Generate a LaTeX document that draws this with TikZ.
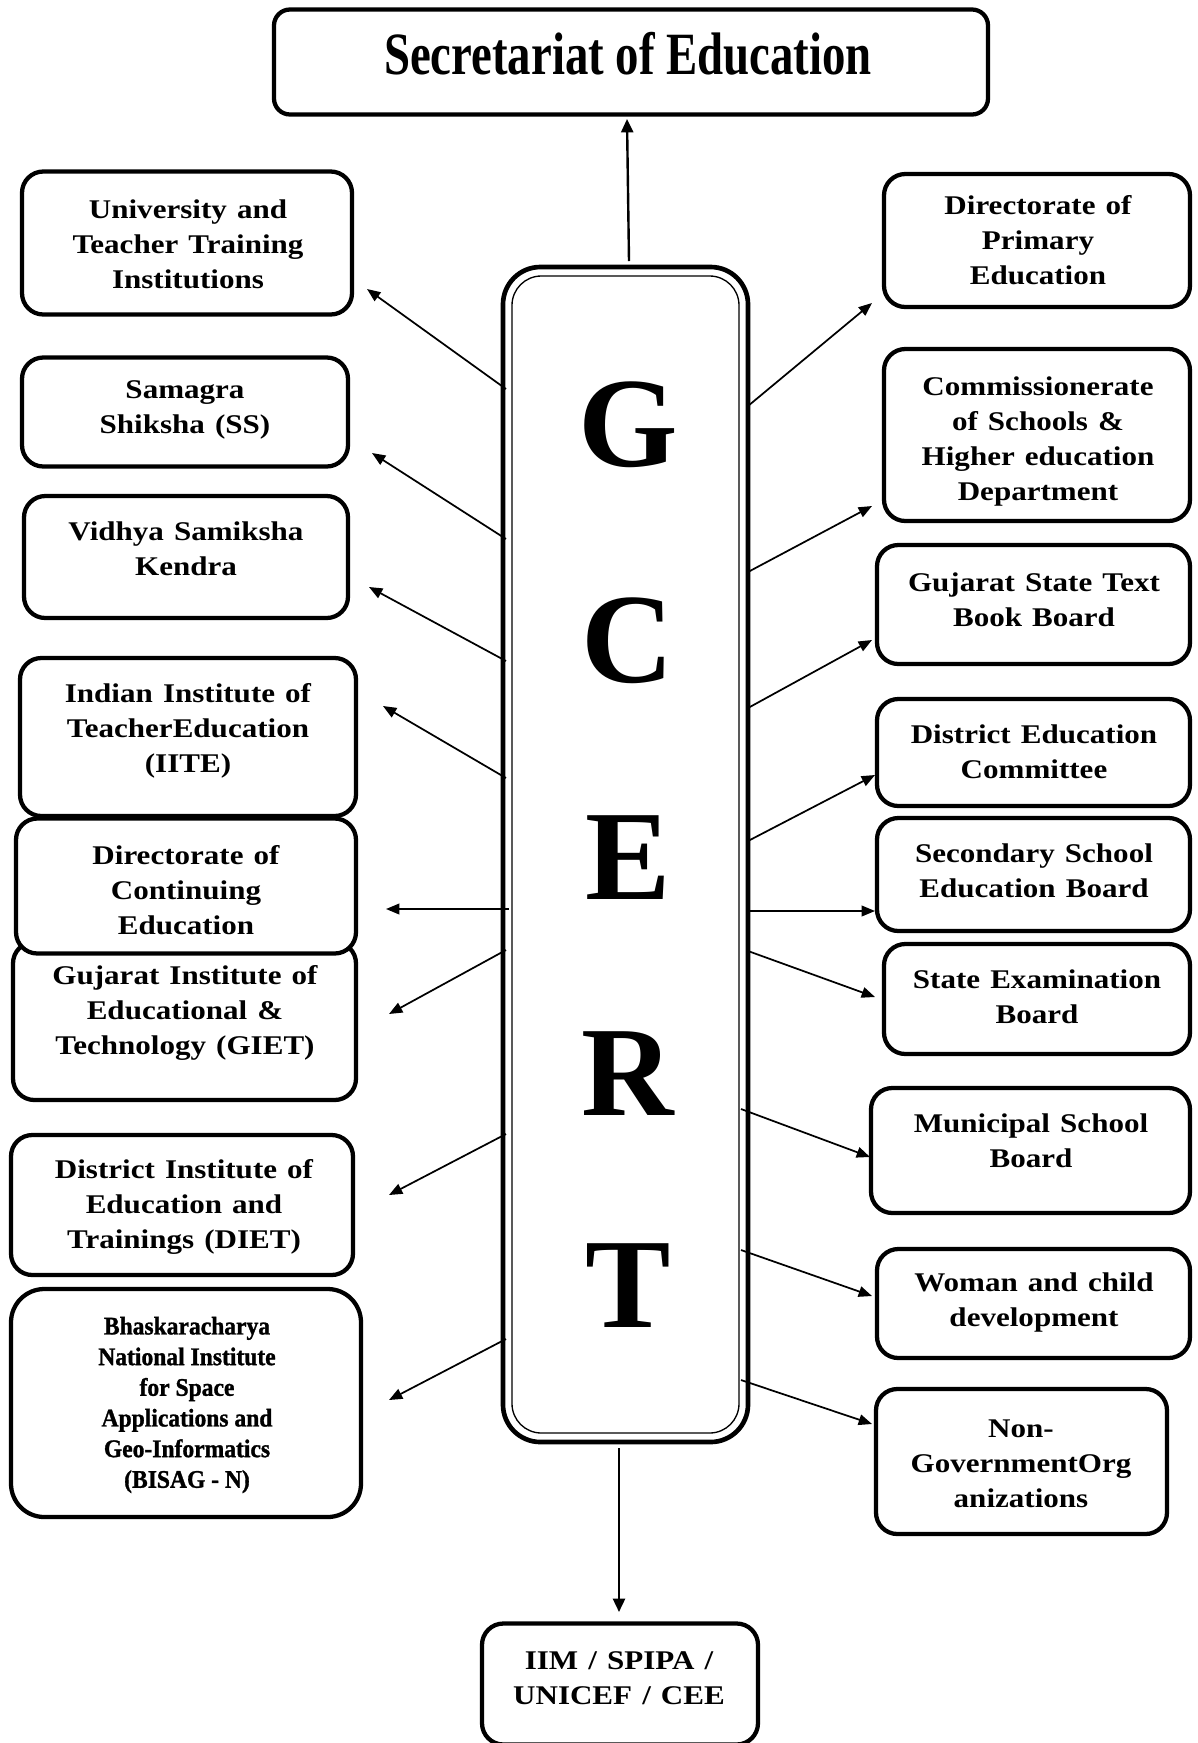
\documentclass[tikz,border=0pt]{standalone}
\usepackage{fontspec}
\setmainfont{Liberation Serif}
\newfontfamily\bodyfont{Liberation Serif}[FakeStretch=1.15,WordSpace=1.3]
\newfontfamily\smallfont{Liberation Serif}[FakeStretch=0.93,FakeBold=1.2]
\newfontfamily\bigfont{Liberation Serif}
\usetikzlibrary{arrows.meta}
\tikzset{
  bx/.style n args={2}{draw, line width=3.2pt, rounded corners=16pt, fill=white,
     minimum width=#1*0.75pt, minimum height=#2*0.75pt, inner sep=0pt},
  txt/.style={align=center, inner sep=0pt,
     font=\bodyfont\bfseries\fontsize{20.25}{26.25}\selectfont},
  smalltxt/.style={align=center, inner sep=0pt,
     font=\smallfont\bfseries\fontsize{19}{23}\selectfont},
  letter/.style={inner sep=0pt, font=\bigfont\bfseries\fontsize{96}{96}\selectfont},
  arr/.style={line width=1.3pt, -{Triangle[length=10pt,width=8pt]}},
  varr/.style={line width=1.8pt, -{Triangle[length=10pt,width=9pt]}}
}
\begin{document}
\begin{tikzpicture}[x=0.75pt,y=-0.75pt]
\useasboundingbox[fill=white] (0,0) rectangle (1197,1743);

% top box
\node[bx={714}{105}, rounded corners=12pt] (top) at (631,62) {};
\node[inner sep=0pt] (topt) at (628,54) {\scalebox{0.78}[1]{\bfseries\fontsize{45}{45}\selectfont Secretariat of Education}};

% central GCERT box
\node[draw, line width=3.5pt, rounded corners=28pt, minimum width=245*0.75pt, minimum height=1175*0.75pt, inner sep=0pt] (gc) at (625.5,854.5) {};
\node[draw, line width=1pt, rounded corners=22pt, minimum width=227*0.75pt, minimum height=1157*0.75pt, inner sep=0pt] (gcin) at (625.5,854.5) {};
\node[letter] (lg) at (628,425) {G};
\node[letter] (lc) at (628,641) {C};
\node[letter] (le) at (628,858) {E};
\node[letter] (lr) at (628,1074) {R};
\node[letter] (lt) at (628,1286) {T};

% left boxes
\node[bx={330}{143}] (l1) at (187,243) {};
\node[txt] (l1t) at (188,244) {University and\\Teacher Training\\Institutions};
\node[bx={326}{109}] (l2) at (185,412) {};
\node[txt] (l2t) at (185,410) {Samagra\\Shiksha (SS)};
\node[bx={324}{122}] (l3) at (186,557) {};
\node[txt] (l3t) at (186,549) {Vidhya Samiksha\\Kendra};
\node[bx={336}{158}] (l4) at (188,737) {};
\node[txt] (l4t) at (188,731) {Indian Institute of\\TeacherEducation\\(IITE)};
\node[bx={343}{158}] (l6) at (184.5,1021) {};
\node[txt] (l6t) at (185,1013) {Gujarat Institute of\\Educational \&\\Technology (GIET)};
\node[bx={340}{135}] (l5) at (186,886) {};
\node[txt] (l5t) at (186,890) {Directorate of\\Continuing\\Education};
\node[bx={342}{140}] (l7) at (182,1205) {};
\node[txt] (l7t) at (184,1207) {District Institute of\\Education and\\Trainings (DIET)};
\node[bx={350}{228}, rounded corners=25pt] (l8) at (186,1403) {};
\node[smalltxt] (l8t) at (187,1405) {Bhaskaracharya\\National Institute\\for Space\\Applications and\\Geo-Informatics\\(BISAG - N)};

% right boxes
\node[bx={306}{133}] (r1) at (1037,240.5) {};
\node[txt] (r1t) at (1038,240) {Directorate of\\Primary\\Education};
\node[bx={306}{172}] (r2) at (1037,435) {};
\node[txt] (r2t) at (1038,441) {Commissionerate\\of Schools \&\\Higher education\\Department};
\node[bx={313}{119}] (r3) at (1033.5,604.5) {};
\node[txt] (r3t) at (1034,600) {Gujarat State Text\\Book Board};
\node[bx={313}{107}] (r4) at (1033.5,752.5) {};
\node[txt] (r4t) at (1034,752) {District Education\\Committee};
\node[bx={313}{113}] (r5) at (1033.5,874.5) {};
\node[txt] (r5t) at (1034,871) {Secondary School\\Education Board};
\node[bx={306}{110}] (r6) at (1037,999) {};
\node[txt] (r6t) at (1037,997) {State Examination\\Board};
\node[bx={319}{125}] (r7) at (1030.5,1150.5) {};
\node[txt] (r7t) at (1031,1141) {Municipal School\\Board};
\node[bx={313}{109}] (r8) at (1033.5,1303.5) {};
\node[txt] (r8t) at (1034,1302) {Woman and child\\development};
\node[bx={291}{145}] (r9) at (1021.5,1461.5) {};
\node[txt] (r9t) at (1021,1464) {Non-\\GovernmentOrg\\anizations};

% bottom box
\node[bx={276}{121}] (bot) at (620,1684) {};
\node[txt] (bott) at (619,1678) {IIM / SPIPA /\\UNICEF / CEE};

% arrow end points
\coordinate (st) at (629,261);  \coordinate (et) at (627,119);
\coordinate (sb) at (619,1448); \coordinate (eb) at (619,1612);
\coordinate (sl1) at (506,389);  \coordinate (el1) at (367,289);
\coordinate (sl2) at (506,539);  \coordinate (el2) at (372,453);
\coordinate (sl3) at (506,661);  \coordinate (el3) at (369,587);
\coordinate (sl4) at (506,778);  \coordinate (el4) at (383,706);
\coordinate (sl5) at (509,909);  \coordinate (el5) at (386,909);
\coordinate (sl6) at (506,950);  \coordinate (el6) at (389,1014);
\coordinate (sl7) at (506,1134); \coordinate (el7) at (389,1195);
\coordinate (sl8) at (506,1339); \coordinate (el8) at (389,1400);
\coordinate (sr1) at (748,406);  \coordinate (er1) at (872,303);
\coordinate (sr2) at (748,572);  \coordinate (er2) at (872,506);
\coordinate (sr3) at (748,708);  \coordinate (er3) at (872,640);
\coordinate (sr4) at (748,841);  \coordinate (er4) at (875,775);
\coordinate (sr5) at (748,911);  \coordinate (er5) at (875,911);
\coordinate (sr6) at (748,951);  \coordinate (er6) at (875,997);
\coordinate (sr7) at (741,1109); \coordinate (er7) at (870,1157);
\coordinate (sr8) at (741,1250); \coordinate (er8) at (872,1296);
\coordinate (sr9) at (741,1380); \coordinate (er9) at (872,1424);

\draw[varr] (st) -- (et);
\draw[varr] (sb) -- (eb);
\foreach \i in {1,...,8} { \draw[arr] (sl\i) -- (el\i); }
\foreach \i in {1,...,9} { \draw[arr] (sr\i) -- (er\i); }
\end{tikzpicture}
\end{document}
